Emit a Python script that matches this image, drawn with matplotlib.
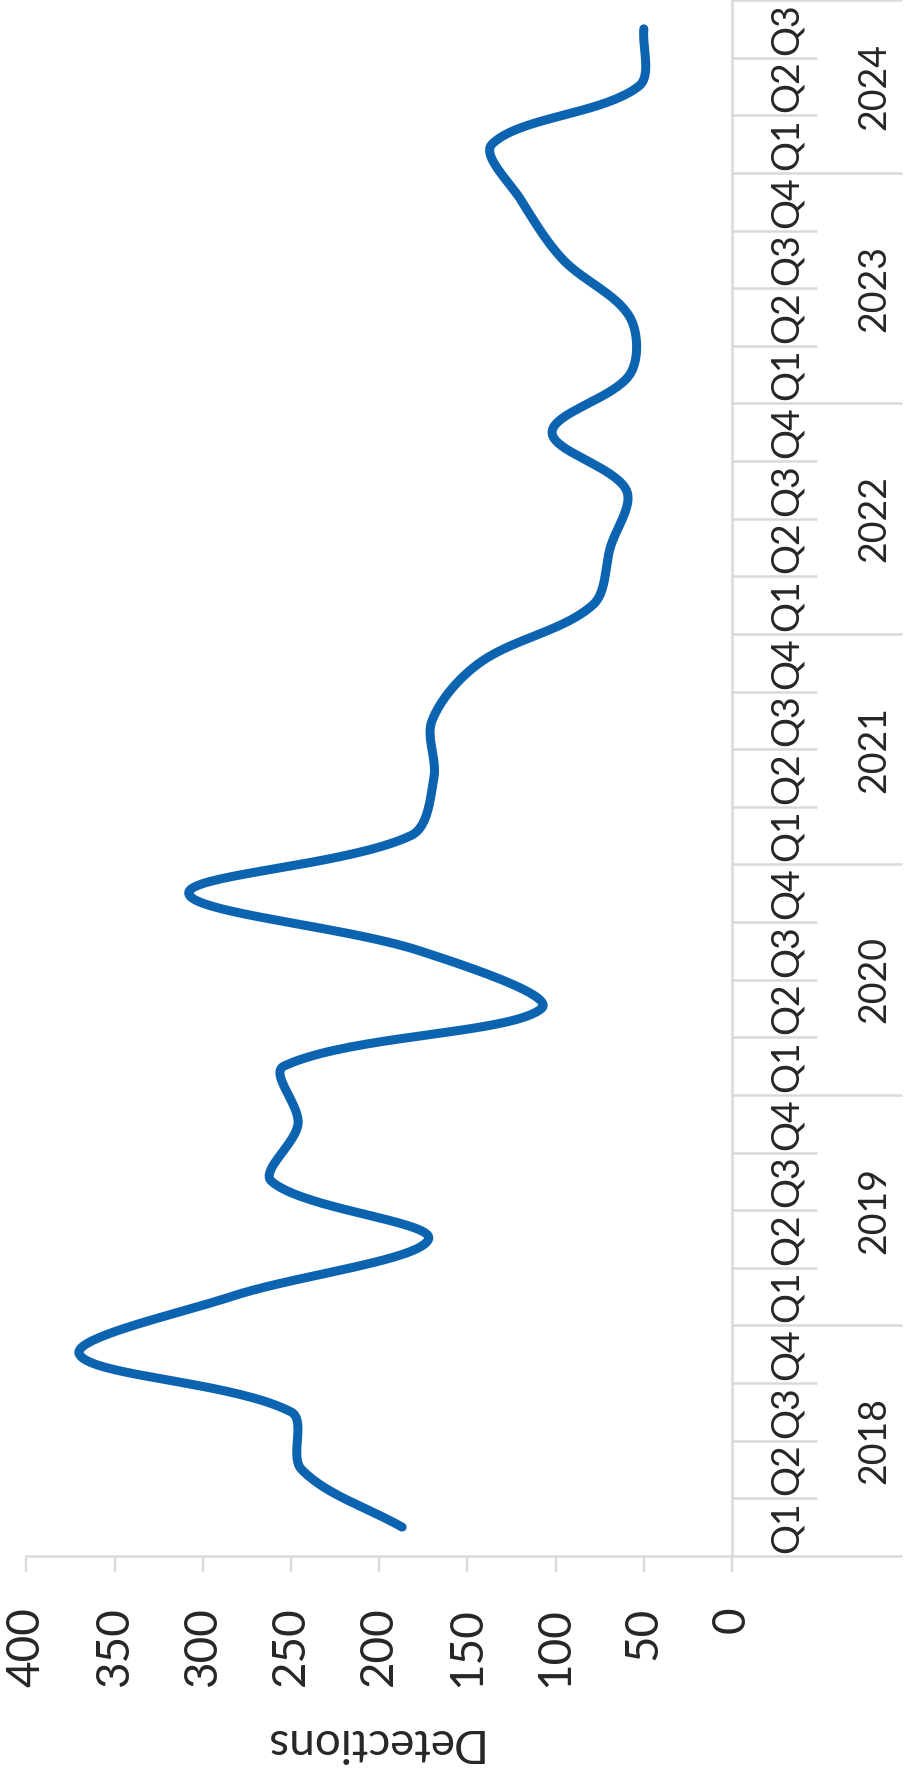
import matplotlib.pyplot as plt
import numpy as np

plt.rcParams['font.family'] = ['Lato', 'DejaVu Sans']

years = ['2018', '2019', '2020', '2021', '2022', '2023', '2024']
quarters = ['Q1', 'Q2', 'Q3', 'Q4']
# quarterly detections, 2018 Q1 .. 2024 Q3
detections = [187, 244, 250, 370, 284, 172, 261, 246, 254, 108, 177, 308, 182, 169,
              170, 143, 79, 69, 60, 102, 58, 58, 96, 119, 136, 53, 50]
value_ticks = [0, 50, 100, 150, 200, 250, 300, 350, 400]

LINE_BLUE = '#0C63AF'
AXIS_GREY = '#D9D9D9'
TEXT = '#262626'


def smooth_curve(xs, ys, sx, sy, steps=40):
    # Bezier smoothing with control arms split by neighbouring chord lengths,
    # computed in screen units (sx, sy = pixels per data unit)
    p = np.column_stack([np.asarray(xs) * sx, np.asarray(ys) * sy]).astype(float)
    m = len(p)
    arm_prev = np.zeros_like(p)
    arm_next = np.zeros_like(p)
    for i in range(m):
        a = p[max(i - 1, 0)]
        b = p[min(i + 1, m - 1)]
        d_prev = np.linalg.norm(p[i] - a)
        d_next = np.linalg.norm(b - p[i])
        tot = d_prev + d_next
        if tot == 0:
            continue
        arm_prev[i] = -(b - a) / 3 * d_prev / tot
        arm_next[i] = (b - a) / 3 * d_next / tot
    t = np.linspace(0, 1, steps)[:, None]
    out = []
    for i in range(m - 1):
        p1, p2 = p[i], p[i + 1]
        b1 = p1 + arm_next[i]
        b2 = p2 + arm_prev[i + 1]
        seg = ((1 - t) ** 3) * p1 + 3 * ((1 - t) ** 2) * t * b1 + 3 * (1 - t) * t ** 2 * b2 + t ** 3 * p2
        out.append(seg if i == 0 else seg[1:])
    out = np.vstack(out)
    return out[:, 0] / sx, out[:, 1] / sy


n = len(detections)
idx = np.arange(n)
# ~57.5 px per quarter, ~1.76 px per detection on the page
ci, cv = smooth_curve(idx, detections, 57.5, 1.764)

fig = plt.figure(figsize=(9.07, 17.76), dpi=100)
ax = fig.add_axes([0.0291, 0.1239, 0.7780, 0.8761])

# chart is laid on its side: values run right-to-left, quarters bottom-to-top
ax.plot(cv, ci, color=LINE_BLUE, lw=6.5, solid_capstyle='round', solid_joinstyle='round')

ax.set_xlim(400, 0)
ax.set_ylim(-0.5, n - 0.5)

for s in ['top', 'left']:
    ax.spines[s].set_visible(False)
for s in ['bottom', 'right']:
    ax.spines[s].set_color(AXIS_GREY)
    ax.spines[s].set_linewidth(1.8)

ax.set_xticks(value_ticks)
ax.set_xticklabels([str(v) for v in value_ticks])
ax.tick_params(axis='x', length=11.5, width=1.6, color=AXIS_GREY, pad=25,
               labelsize=33, labelcolor=TEXT, labelrotation=90)
ax.set_yticks([])

# multi-level category axis on the right
tr = ax.get_yaxis_transform()
short_end = 1.1205
long_end = 1.241
for k in range(n + 1):
    end = long_end if (k % 4 == 0 or k == n) else short_end
    ax.plot([1.0, end], [k - 0.5, k - 0.5], transform=tr, color=AXIS_GREY,
            lw=1.8, clip_on=False, solid_capstyle='butt')

for i in range(n):
    ax.text(1.078, i, quarters[i % 4], transform=tr, rotation=90, ha='center', va='center',
            fontsize=27, color=TEXT)

for j, yr in enumerate(years):
    first = j * 4
    last = min(first + 3, n - 1)
    ax.text(1.201, (first + last) / 2, yr, transform=tr, rotation=90, ha='center',
            va='center', fontsize=27, color=TEXT)

# value-axis title, upside down under the tick labels
fig.text(370 / 907, 1 - 1742 / 1776, 'Detections', fontsize=33, color=TEXT,
         rotation=180, ha='center', va='center')

fig.savefig('out.png', dpi=100)
